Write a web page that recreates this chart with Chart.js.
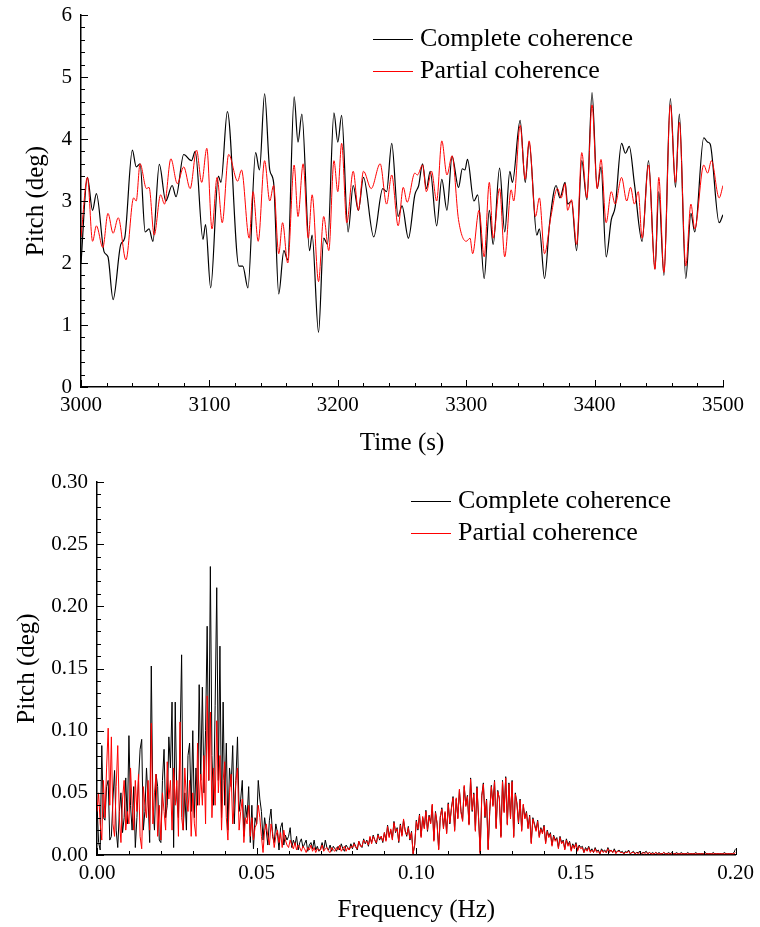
<!DOCTYPE html>
<html>
<head>
<meta charset="utf-8">
<script src="https://cdn.jsdelivr.net/npm/chart.js@4.4.1/dist/chart.umd.min.js"></script>
<style>
  body { margin: 0; background: #fff; }
  canvas { display: block; }
</style>
</head>
<body>
<canvas id="timeChart" width="760" height="465"></canvas>
<canvas id="freqChart" width="760" height="462"></canvas>
<script>
// ---- time history (top) ----
const timeBlack = [3000,3005,3009,3012,3018,3021,3025,3031,3034,3040,3043,3046,3050,3053,3056,3061,3066,3071,3074,3080,3086,3089,3095,3097,3101,3107,3109,3114,3123,3126,3130,3136,3139,3143,3147,3150,3154,3158,3161,3166,3169,3172,3178,3180,3185,3189,3192,3197,3200,3203,3208,3212,3216,3220,3228,3235,3238,3242,3247,3250,3255,3260,3263,3266,3269,3272,3277,3281,3285,3289,3294,3297,3299,3301,3306,3309,3314,3318,3321,3326,3330,3334,3336,3342,3346,3349,3355,3357,3361,3365,3370,3373,3377,3379,3382,3386,3390,3394,3398,3402,3405,3409,3413,3416,3421,3424,3427,3431,3437,3442,3447,3450,3454,3459,3463,3466,3471,3475,3478,3485,3488,3490,3497,3500];
const pitchBlack = [2.0,3.38,2.85,3.12,2.18,2.1,1.41,2.3,2.4,3.82,3.55,3.6,2.5,2.55,2.35,3.59,3.0,3.25,3.07,3.75,3.65,3.8,2.38,2.62,1.6,3.4,3.3,4.44,1.95,1.95,1.6,3.78,3.5,4.73,3.5,3.3,1.5,2.2,2.05,4.68,3.95,4.4,2.2,2.45,0.88,2.4,2.3,4.42,3.95,4.38,2.5,3.25,2.85,3.38,2.42,3.2,3.15,3.93,2.75,2.92,2.4,3.1,3.25,3.6,3.2,3.48,2.6,3.35,2.85,3.72,3.22,3.52,3.5,3.67,3.0,3.1,1.75,2.85,2.3,3.53,2.5,3.48,3.3,4.3,3.3,3.95,2.45,2.55,1.75,2.65,3.25,3.05,3.3,2.95,3.0,2.2,3.65,3.02,4.75,3.2,3.55,2.1,2.7,2.9,3.93,3.77,3.88,3.28,2.35,3.65,1.9,3.15,1.8,4.65,3.22,4.4,1.75,2.8,2.5,4.02,3.95,3.92,2.65,2.78];
const timeRed = [3000,3005,3009,3012,3017,3021,3025,3029,3035,3041,3043,3046,3051,3053,3057,3062,3065,3070,3075,3080,3085,3090,3094,3098,3102,3106,3110,3115,3122,3125,3131,3134,3138,3143,3147,3150,3154,3157,3161,3166,3169,3173,3177,3180,3185,3189,3193,3197,3200,3203,3207,3212,3216,3220,3226,3233,3238,3242,3247,3251,3254,3260,3262,3266,3269,3273,3277,3281,3285,3289,3294,3300,3303,3305,3310,3314,3318,3321,3326,3330,3335,3337,3342,3346,3349,3354,3357,3361,3366,3371,3374,3377,3379,3382,3386,3390,3394,3398,3402,3405,3409,3413,3416,3421,3425,3428,3431,3434,3437,3442,3447,3450,3454,3459,3463,3466,3471,3475,3478,3485,3488,3491,3497,3500];
const pitchRed = [2.42,3.38,2.35,2.6,2.25,2.8,2.48,2.73,2.05,3.05,3.0,3.6,3.2,3.22,2.45,3.1,2.95,3.68,3.28,3.55,3.2,3.82,3.3,3.85,2.55,3.38,2.65,3.75,3.32,3.5,2.4,3.15,2.35,3.65,3.0,3.25,2.15,2.65,2.0,3.58,2.75,3.6,2.4,3.1,1.7,2.75,2.2,3.65,3.15,3.93,2.65,3.48,2.85,3.48,3.2,3.6,2.95,3.42,2.6,3.22,2.98,3.45,3.42,3.58,3.15,3.48,3.0,3.97,3.42,3.73,2.7,2.35,2.4,2.15,2.85,2.1,3.3,2.4,3.2,2.1,3.18,3.0,4.22,3.35,3.97,2.75,3.05,2.15,2.75,3.2,3.05,3.28,2.85,3.02,2.3,3.78,3.05,4.55,3.2,3.67,2.65,3.15,2.95,3.38,3.0,3.22,2.95,3.15,2.4,3.58,1.9,3.38,1.85,4.55,3.3,4.27,1.95,2.95,2.55,3.58,3.45,3.65,3.05,3.25];

// ---- spectrum (bottom), one value per 0.0005 Hz bin, 20 bins per row ----
const FREQ_STEP = 0.0005;
const specBlack = [
  0.042,0.010,0.004,0.088,0.030,0.028,0.055,0.060,0.012,0.015,0.045,0.068,0.020,0.006,0.035,0.050,0.018,0.030,0.062,0.025,
  0.096,0.040,0.020,0.055,0.006,0.030,0.060,0.085,0.093,0.020,0.035,0.070,0.045,0.010,0.152,0.040,0.020,0.065,0.055,0.012,
  0.010,0.060,0.085,0.030,0.040,0.095,0.070,0.123,0.006,0.123,0.045,0.030,0.090,0.161,0.020,0.050,0.020,0.080,0.090,0.035,
  0.100,0.030,0.070,0.040,0.137,0.060,0.135,0.050,0.100,0.184,0.060,0.232,0.080,0.040,0.120,0.215,0.060,0.168,0.030,0.123,
  0.040,0.090,0.020,0.070,0.055,0.088,0.025,0.060,0.095,0.035,0.045,0.060,0.015,0.040,0.030,0.055,0.010,0.040,0.005,0.030,
  0.025,0.060,0.045,0.035,0.012,0.030,0.020,0.008,0.028,0.037,0.015,0.010,0.025,0.018,0.004,0.022,0.026,0.008,0.016,0.012,
  0.015,0.022,0.006,0.012,0.008,0.015,0.004,0.010,0.013,0.006,0.009,0.012,0.003,0.008,0.010,0.005,0.012,0.004,0.007,0.003,
  0.005,0.010,0.004,0.012,0.006,0.004,0.008,0.003,0.007,0.005,0.003,0.007,0.004,0.009,0.005,0.003,0.008,0.006,0.004,0.009,
  0.005,0.010,0.007,0.004,0.011,0.008,0.006,0.013,0.009,0.012,0.007,0.014,0.010,0.016,0.012,0.009,0.017,0.012,0.015,0.010,
  0.018,0.012,0.024,0.015,0.020,0.013,0.027,0.018,0.022,0.010,0.025,0.016,0.028,0.020,0.015,0.023,0.012,0.019,0.001,0.008,
  0.028,0.020,0.033,0.015,0.030,0.022,0.036,0.019,0.032,0.026,0.040,0.012,0.035,0.025,0.005,0.030,0.038,0.022,0.034,0.018,
  0.042,0.025,0.038,0.047,0.020,0.045,0.030,0.052,0.035,0.028,0.055,0.040,0.048,0.025,0.062,0.035,0.050,0.020,0.055,0.030,
  0.002,0.048,0.058,0.030,0.045,0.005,0.035,0.056,0.040,0.060,0.022,0.052,0.045,0.015,0.060,0.035,0.063,0.025,0.058,0.030,
  0.060,0.015,0.050,0.042,0.025,0.045,0.020,0.040,0.030,0.035,0.022,0.032,0.010,0.030,0.025,0.020,0.028,0.015,0.022,0.018,
  0.024,0.010,0.020,0.015,0.018,0.008,0.016,0.012,0.014,0.006,0.015,0.010,0.012,0.005,0.013,0.008,0.011,0.004,0.009,0.006,
  0.010,0.004,0.008,0.006,0.007,0.002,0.006,0.004,0.007,0.003,0.005,0.002,0.006,0.003,0.004,0.001,0.005,0.003,0.004,0.002,
  0.006,0.003,0.004,0.002,0.005,0.002,0.003,0.004,0.002,0.003,0.001,0.003,0.002,0.004,0.001,0.002,0.003,0.001,0.002,0.002,
  0.003,0.001,0.002,0.002,0.003,0.001,0.002,0.001,0.002,0.001,0.002,0.001,0.002,0.001,0.001,0.002,0.001,0.001,0.002,0.001,
  0.002,0.001,0.001,0.002,0.001,0.001,0.002,0.001,0.001,0.001,0.002,0.001,0.001,0.001,0.001,0.002,0.001,0.001,0.001,0.001,
  0.001,0.002,0.001,0.001,0.001,0.001,0.002,0.001,0.001,0.001,0.001,0.001,0.001,0.002,0.001,0.001,0.001,0.001,0.001,0.002,
  0.005
];
const specRed = [
  0.035,0.050,0.025,0.012,0.060,0.030,0.070,0.102,0.040,0.095,0.025,0.015,0.055,0.088,0.030,0.010,0.045,0.060,0.020,0.035,
  0.025,0.070,0.040,0.020,0.060,0.035,0.065,0.015,0.005,0.055,0.040,0.030,0.060,0.020,0.106,0.025,0.050,0.065,0.015,0.040,
  0.012,0.050,0.035,0.020,0.075,0.045,0.060,0.020,0.070,0.040,0.060,0.015,0.107,0.030,0.020,0.070,0.045,0.035,0.060,0.015,
  0.050,0.025,0.015,0.090,0.040,0.065,0.040,0.080,0.025,0.128,0.060,0.115,0.030,0.070,0.040,0.108,0.050,0.080,0.020,0.060,
  0.075,0.030,0.012,0.050,0.065,0.025,0.040,0.060,0.070,0.020,0.035,0.045,0.010,0.030,0.025,0.040,0.015,0.030,0.012,0.022,
  0.025,0.040,0.030,0.015,0.002,0.020,0.025,0.015,0.008,0.025,0.018,0.006,0.015,0.020,0.010,0.018,0.006,0.020,0.012,0.008,
  0.006,0.012,0.008,0.005,0.010,0.004,0.008,0.006,0.003,0.007,0.005,0.002,0.006,0.004,0.008,0.003,0.006,0.002,0.005,0.004,
  0.004,0.008,0.003,0.005,0.006,0.003,0.002,0.006,0.004,0.003,0.006,0.004,0.008,0.003,0.005,0.007,0.003,0.006,0.004,0.007,
  0.006,0.009,0.006,0.005,0.011,0.007,0.007,0.012,0.010,0.011,0.008,0.015,0.009,0.015,0.012,0.010,0.016,0.013,0.015,0.011,
  0.018,0.011,0.023,0.014,0.021,0.012,0.026,0.019,0.021,0.011,0.024,0.015,0.029,0.019,0.016,0.022,0.013,0.018,0.001,0.009,
  0.027,0.021,0.032,0.014,0.031,0.021,0.035,0.020,0.031,0.025,0.041,0.011,0.034,0.026,0.004,0.031,0.037,0.021,0.035,0.017,
  0.041,0.026,0.037,0.046,0.019,0.046,0.029,0.053,0.034,0.027,0.056,0.039,0.047,0.024,0.061,0.036,0.049,0.019,0.054,0.029,
  0.001,0.047,0.057,0.031,0.044,0.004,0.036,0.055,0.039,0.059,0.021,0.051,0.046,0.014,0.059,0.034,0.062,0.024,0.057,0.029,
  0.059,0.014,0.049,0.041,0.026,0.044,0.019,0.041,0.029,0.034,0.021,0.031,0.009,0.029,0.024,0.019,0.027,0.014,0.021,0.017,
  0.023,0.009,0.019,0.014,0.017,0.007,0.015,0.011,0.013,0.005,0.014,0.009,0.011,0.004,0.012,0.007,0.010,0.003,0.008,0.005,
  0.009,0.003,0.007,0.005,0.006,0.002,0.005,0.003,0.006,0.002,0.004,0.002,0.005,0.002,0.003,0.001,0.004,0.002,0.003,0.002,
  0.005,0.002,0.004,0.002,0.004,0.001,0.003,0.003,0.002,0.002,0.001,0.002,0.002,0.003,0.001,0.002,0.002,0.001,0.002,0.001,
  0.002,0.001,0.002,0.001,0.002,0.001,0.002,0.001,0.001,0.001,0.002,0.001,0.001,0.001,0.001,0.002,0.001,0.001,0.001,0.001,
  0.001,0.001,0.001,0.001,0.001,0.001,0.001,0.001,0.001,0.001,0.001,0.001,0.001,0.001,0.001,0.001,0.001,0.001,0.001,0.001,
  0.001,0.001,0.001,0.001,0.001,0.001,0.001,0.001,0.001,0.001,0.001,0.001,0.001,0.001,0.001,0.001,0.001,0.001,0.001,0.001,
  0.002
];

const seriesLabels = ['Complete coherence', 'Partial coherence'];
const serif = '"Liberation Serif", "Times New Roman", serif';

// ticks pointing into the plot, with minor ticks between labels
const inwardTicks = {
  id: 'inwardTicks',
  afterDraw(chart, args, opts) {
    const ctx = chart.ctx;
    ctx.save();
    ctx.strokeStyle = '#000';
    ctx.lineWidth = 1;
    ['x', 'y'].forEach(id => {
      const s = chart.scales[id];
      const o = opts[id];
      const n = Math.round((s.max - s.min) / o.minor);
      for (let i = 0; i <= n; i++) {
        const v = s.min + i * o.minor;
        const len = i % o.every === 0 ? 7 : 4;
        const p = Math.round(s.getPixelForValue(v)) + 0.5;
        ctx.beginPath();
        if (id === 'x') {
          ctx.moveTo(p, s.top);
          ctx.lineTo(p, s.top - len);
        } else {
          ctx.moveTo(s.right, p);
          ctx.lineTo(s.right + len, p);
        }
        ctx.stroke();
      }
    });
    ctx.restore();
  }
};

// legend drawn inside the plot, line sample + label
const lineLegend = {
  id: 'lineLegend',
  afterDraw(chart, args, opts) {
    const ctx = chart.ctx;
    ctx.save();
    ctx.font = '26px ' + serif;
    ctx.textBaseline = 'middle';
    opts.order.forEach((dsIndex, i) => {
      const ds = chart.data.datasets[dsIndex];
      const y = opts.y + i * opts.gap;
      ctx.strokeStyle = ds.borderColor;
      ctx.lineWidth = 1;
      ctx.beginPath();
      ctx.moveTo(opts.x, y + 0.5);
      ctx.lineTo(opts.x + opts.len, y + 0.5);
      ctx.stroke();
      ctx.fillStyle = '#000';
      ctx.fillText(ds.label, opts.x + opts.len + 7, y);
    });
    ctx.restore();
  }
};

function axis(cfg) {
  return {
    type: 'linear',
    min: cfg.min,
    max: cfg.max,
    afterFit: cfg.fit,
    grid: { display: false, drawTicks: false },
    border: { display: true, color: '#000', width: 1.5 },
    ticks: {
      stepSize: cfg.step,
      autoSkip: false,
      padding: cfg.pad,
      color: '#000',
      font: { family: serif, size: 21 },
      callback: v => v.toFixed(cfg.dec)
    },
    title: {
      display: true,
      text: cfg.title,
      color: '#000',
      font: { family: serif, size: 25 },
      padding: cfg.titlePad
    }
  };
}

function toPoints(xs, ys) {
  return xs.map((x, i) => ({ x: x, y: ys[i] }));
}

// top chart
new Chart(document.getElementById('timeChart'), {
  type: 'line',
  data: {
    datasets: [
      { label: seriesLabels[0], data: toPoints(timeBlack, pitchBlack), borderColor: '#000000',
        borderWidth: 1.2, pointRadius: 0, cubicInterpolationMode: 'monotone', order: 1 },
      { label: seriesLabels[1], data: toPoints(timeRed, pitchRed), borderColor: '#ff0000',
        borderWidth: 1, pointRadius: 0, cubicInterpolationMode: 'monotone', order: 0 }
    ]
  },
  options: {
    responsive: false,
    animation: false,
    events: [],
    layout: { padding: { top: 15, right: 37, left: 0, bottom: 0 } },
    scales: {
      x: axis({ min: 3000, max: 3500, step: 100, dec: 0, pad: 6, title: 'Time (s)',
                titlePad: { top: 0, bottom: 7 }, fit: s => { s.height = 78; } }),
      y: axis({ min: 0, max: 6, step: 1, dec: 0, pad: 9, title: 'Pitch (deg)',
                titlePad: { top: 21, bottom: 0 }, fit: s => { s.width = 81; s.paddingTop = 0; } })
    },
    plugins: {
      legend: { display: false },
      tooltip: { enabled: false },
      inwardTicks: { x: { minor: 20, every: 5 }, y: { minor: 0.2, every: 5 } },
      lineLegend: { x: 373, y: 39, gap: 32, len: 40, order: [0, 1] }
    }
  },
  plugins: [inwardTicks, lineLegend]
});

// bottom chart
const freqPoints = arr => arr.map((v, i) => ({ x: i * FREQ_STEP, y: v }));
new Chart(document.getElementById('freqChart'), {
  type: 'line',
  data: {
    datasets: [
      { label: seriesLabels[0], data: freqPoints(specBlack), borderColor: '#000000',
        borderWidth: 1, pointRadius: 0, tension: 0, order: 1 },
      { label: seriesLabels[1], data: freqPoints(specRed), borderColor: '#ff0000',
        borderWidth: 1, pointRadius: 0, tension: 0, order: 0 }
    ]
  },
  options: {
    responsive: false,
    animation: false,
    events: [],
    layout: { padding: { top: 17, right: 21, left: 0, bottom: 0 } },
    scales: {
      x: axis({ min: 0, max: 0.2, step: 0.05, dec: 2, pad: 6, title: 'Frequency (Hz)',
                titlePad: { top: 0, bottom: 2 }, fit: s => { s.height = 72; } }),
      y: axis({ min: 0, max: 0.3, step: 0.05, dec: 2, pad: 9, title: 'Pitch (deg)',
                titlePad: { top: 12, bottom: 0 }, fit: s => { s.width = 97; s.paddingTop = 0; } })
    },
    plugins: {
      legend: { display: false },
      tooltip: { enabled: false },
      inwardTicks: { x: { minor: 0.01, every: 5 }, y: { minor: 0.01, every: 5 } },
      lineLegend: { x: 411, y: 36, gap: 32, len: 40, order: [0, 1] }
    }
  },
  plugins: [inwardTicks, lineLegend]
});
</script>
</body>
</html>
